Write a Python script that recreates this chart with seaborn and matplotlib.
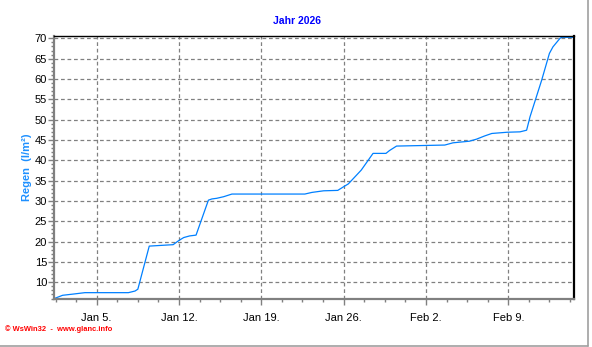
import matplotlib
matplotlib.use("Agg")
import matplotlib.pyplot as plt
import seaborn as sns
import pandas as pd
import numpy as np
from matplotlib.lines import Line2D
from matplotlib.ticker import MultipleLocator, FixedLocator

# Data: days since Jan 1 00:00, cumulative rain (l/m²)
days = [0.48, 1.1, 2.0, 3.0, 6.7, 7.26, 7.5, 8.47, 10.5, 11.0, 11.4, 11.9, 12.45,
        13.5, 13.8, 14.2, 14.8, 15.5, 21.7, 22.3, 23.3, 24.5, 25.0, 25.4, 26.5,
        27.5, 28.6, 28.9, 29.5, 33.6, 34.3, 35.7, 36.3, 37.0, 37.6, 38.9, 40.0,
        40.56, 40.85, 41.84, 42.5, 42.8, 43.4, 43.54, 44.5]
rain = [6.1, 6.8, 7.1, 7.45, 7.45, 7.85, 8.3, 18.9, 19.25, 20.3, 21.0, 21.4, 21.6,
        30.2, 30.5, 30.65, 31.05, 31.7, 31.7, 32.1, 32.5, 32.6, 33.5, 34.2, 37.6,
        41.7, 41.7, 42.4, 43.5, 43.75, 44.3, 44.7, 45.2, 46.0, 46.6, 46.9, 47.0,
        47.4, 50.7, 59.7, 66.3, 67.9, 70.0, 70.25, 70.25]
tick_days = [4, 11, 18, 25, 32, 39]
tick_labels = ["Jan 5.", "Jan 12.", "Jan 19.", "Jan 26.", "Feb 2.", "Feb 9."]
y_ticks = [10, 15, 20, 25, 30, 35, 40, 45, 50, 55, 60, 65, 70]

df = pd.DataFrame({"day": days, "rain": rain})

sns.set_style("white")
plt.rcParams["font.family"] = ["Liberation Sans", "DejaVu Sans"]

fig = plt.figure(figsize=(5.92, 3.47), dpi=100)
ax = fig.add_axes([54/592, 48/347, 520/592, 263/347])

sns.lineplot(data=df, x="day", y="rain", ax=ax, color="#0080FF", linewidth=0.9)

ax.set_xlim(0.37, 44.59)
ax.set_ylim(5.89, 70.57)

ax.set_xticks(tick_days)
ax.set_xticklabels(tick_labels)
ax.set_yticks(y_ticks)
ax.xaxis.set_minor_locator(FixedLocator(np.arange(4 - 2*1.75, 45, 1.75)))
ax.yaxis.set_minor_locator(MultipleLocator(1))

ax.grid(True, which="major", color="#808080", linestyle=(0, (3, 2.2)), linewidth=0.9)

for s in ["left", "bottom"]:
    ax.spines[s].set_color("#808080")
    ax.spines[s].set_linewidth(1.6)
ax.spines["top"].set_color("black")
ax.spines["top"].set_linewidth(1.0)
ax.spines["right"].set_color("black")
ax.spines["right"].set_linewidth(1.6)

ax.tick_params(axis="both", which="major", direction="out", length=4, width=1,
               color="#808080", labelsize=8, labelcolor="black")
ax.tick_params(axis="both", which="minor", direction="out", length=2, width=1,
               color="#808080")
ax.tick_params(axis="x", which="major", pad=6)
ax.tick_params(axis="y", which="major", pad=1)
ax.tick_params(axis="both", which="both", left=True, bottom=True)

ax.set_xlabel("")
ax.set_ylabel("Regen  (l/m²)", color="#1E90FF", fontsize=8, fontweight="bold")
ax.yaxis.set_label_coords(-0.043, 0.5)

fig.text(296.7/592, 1 - 21/347, "Jahr 2026", ha="center", va="center",
         color="#0000FF", fontsize=7.5, fontweight="bold")
fig.text(5/592, 1 - 329/347, "© WsWin32  -  www.glanc.info", ha="left", va="center",
         color="#FF0000", fontsize=5.4, fontweight="bold")

fig.add_artist(Line2D([0, 588/592], [1.5/347, 1.5/347], transform=fig.transFigure,
                      color="#A0A0A0", linewidth=1.2))
fig.add_artist(Line2D([588/592, 588/592], [1.5/347, 1], transform=fig.transFigure,
                      color="#A0A0A0", linewidth=1.2))

fig.savefig("out.png", dpi=100)
